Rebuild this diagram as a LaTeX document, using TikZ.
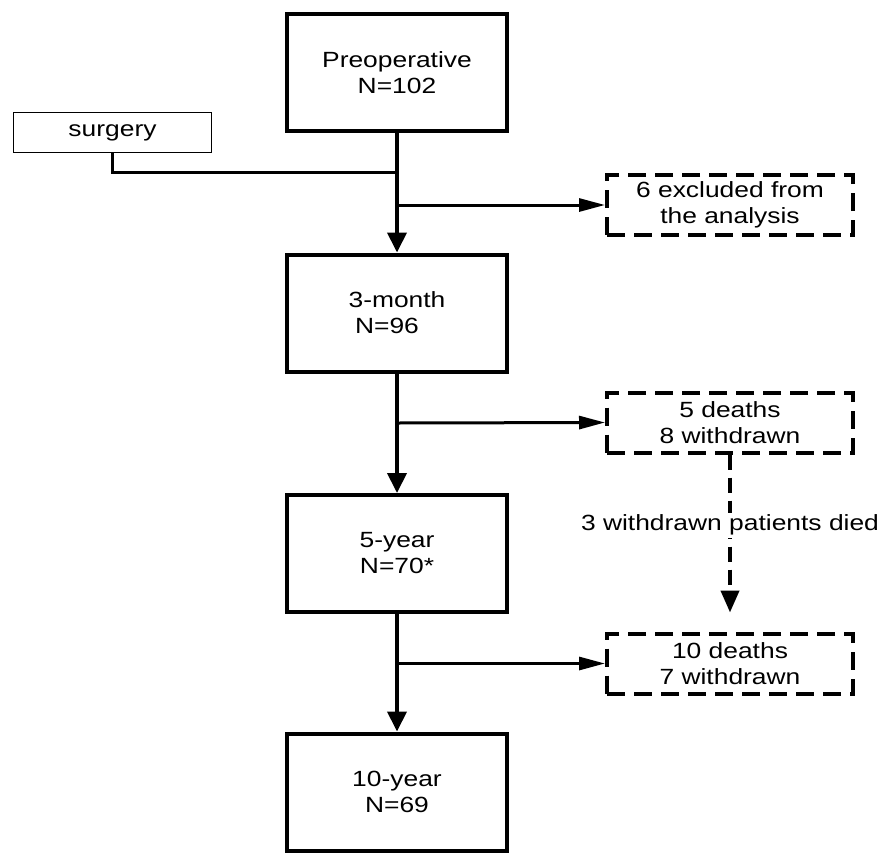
\documentclass[tikz,border=0pt]{standalone}
\usepackage{fontspec}
\setmainfont{Liberation Sans}[FakeStretch=1.2]
\usetikzlibrary{arrows.meta}
\begin{document}
\begin{tikzpicture}[x=1pt,y=-1pt,
  txt/.style={font=\fontsize{22}{26}\selectfont},
  mainbox/.style={draw,line width=4pt,minimum width=220pt,minimum height=117pt,align=center,txt,inner sep=0pt},
  dbox/.style={draw,line width=4pt,dash pattern=on 18pt off 9pt,minimum width=246pt,minimum height=60pt,align=center,txt,inner sep=0pt},
  sbox/.style={draw,line width=1.5pt,minimum width=198pt,minimum height=40pt,txt,inner sep=0pt},
  flow/.style={line width=4pt,-{Triangle[length=20pt,width=19pt]}},
  side/.style={line width=3pt,-{Triangle[length=26pt,width=13pt]}},
  plainline/.style={line width=3pt}]
\useasboundingbox (0,0) rectangle (896,854);
\node[mainbox] (pre) at (397,72.5) {Preoperative\\N=102};
\node[mainbox] (m3) at (397,313) {3-month\\N=96\hspace*{20pt}};
\node[mainbox] (y5) at (397,553.5) {5-year\\N=70*};
\node[mainbox] (y10) at (397,792) {10-year\\N=69};
\node[sbox] (surg) at (112.5,132.5) {surgery};
\node[dbox] (ex) at (730,205) {6 excluded from\\the analysis};
\node[dbox] (d1) at (730,422.5) {5 deaths\\8 withdrawn};
\node[dbox] (d2) at (730,663.5) {10 deaths\\7 withdrawn};
\coordinate (js) at (397,172);
\coordinate (b1) at (397,205);
\coordinate (b2) at (397,423);
\coordinate (b3) at (397,663.5);
\draw[flow] (pre.south) -- (m3.north);
\draw[flow] (m3.south) -- (y5.north);
\draw[flow] (y5.south) -- (y10.north);
\draw[plainline] (surg.south) |- (js);
\draw[side] (b1) -- (ex.west);
\draw[side] (b2) -- (d1.west);
\draw[side] (b3) -- (d2.west);
\draw[line width=4pt,dash pattern=on 15pt off 8pt,shorten >=19pt,-{Triangle[length=22pt,width=18pt]}] (d1.south) -- (d2.north)
  node[pos=0.4,fill=white,inner sep=2pt,txt] {3 withdrawn patients died};
\end{tikzpicture}
\end{document}
